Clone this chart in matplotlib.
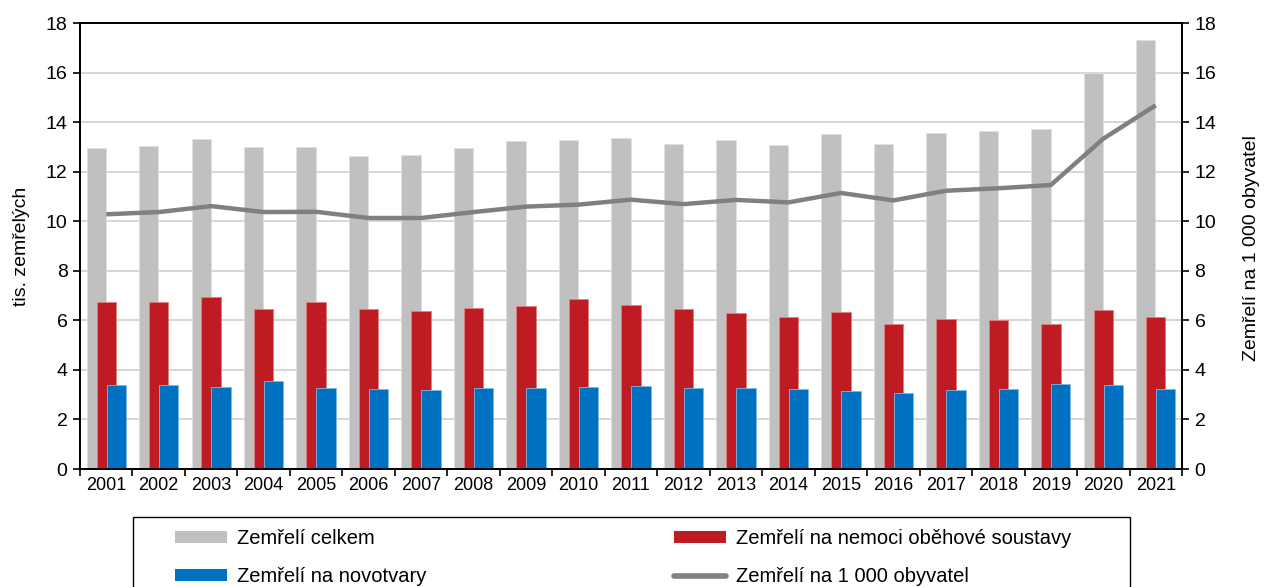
import numpy as np
import matplotlib
matplotlib.use('Agg')
import matplotlib.pyplot as plt
from matplotlib.patches import Patch, Rectangle
from matplotlib.lines import Line2D

plt.rcParams['font.family'] = ['Liberation Sans', 'DejaVu Sans']

years = [str(y) for y in range(2001, 2022)]
celkem = [12.95, 13.05, 13.33, 13.0, 12.98, 12.65, 12.66, 12.94, 13.22, 13.27, 13.37,
          13.13, 13.26, 13.09, 13.53, 13.12, 13.55, 13.64, 13.74, 15.98, 17.31]
obehove = [6.76, 6.72, 6.94, 6.45, 6.72, 6.46, 6.37, 6.48, 6.57, 6.86, 6.62,
           6.45, 6.29, 6.12, 6.33, 5.87, 6.05, 6.01, 5.84, 6.41, 6.13]
novotvary = [3.41, 3.38, 3.31, 3.55, 3.26, 3.24, 3.19, 3.28, 3.28, 3.29, 3.35,
             3.28, 3.25, 3.24, 3.15, 3.05, 3.2, 3.23, 3.45, 3.38, 3.24]
na_1000 = [10.28, 10.37, 10.61, 10.37, 10.38, 10.13, 10.13, 10.37, 10.59, 10.67, 10.87,
           10.69, 10.86, 10.76, 11.14, 10.84, 11.23, 11.33, 11.46, 13.33, 14.68]

c_gray = '#C0C0C0'
c_red = '#BE1B23'
c_blue = '#0070C0'
c_line = '#808080'

W, H = 1265, 587
fig = plt.figure(figsize=(W / 100, H / 100), dpi=100)
ax = fig.add_axes([80 / W, 1 - 469 / H, (1182 - 80) / W, (469 - 23) / H])

x = np.arange(len(years))
w = 0.37
ax.bar(x - 0.19, celkem, w, color=c_gray, edgecolor='#E0E0E0', linewidth=0.6, zorder=2)
ax.bar(x, obehove, w, color=c_red, edgecolor='#E08080', linewidth=0.6, zorder=3)
ax.bar(x + 0.19, novotvary, w, color=c_blue, edgecolor='#80B8E0', linewidth=0.6, zorder=4)

ax.set_xlim(-0.5, len(years) - 0.5)
ax.set_ylim(0, 18)
ax.set_yticks(range(0, 19, 2))
ax.grid(axis='y', color='#D0D0D0', linewidth=1.2, zorder=0)
ax.set_axisbelow(True)

ax.set_xticks(np.arange(-0.5, len(years), 1.0))
ax.set_xticklabels([])
ax.set_xticks(x, minor=True)
ax.set_xticklabels(years, minor=True, fontsize=13)
ax.tick_params(axis='x', which='major', direction='out', length=5, width=1.2)
ax.tick_params(axis='x', which='minor', length=0, pad=6)
ax.tick_params(axis='y', direction='out', length=5, width=1.2, labelsize=14, pad=4)

ax2 = ax.twinx()
ax2.plot(x, na_1000, color=c_line, linewidth=3.2, solid_capstyle='butt', zorder=5)
ax2.set_ylim(0, 18)
ax2.set_yticks(range(0, 19, 2))
ax2.tick_params(axis='y', direction='out', length=5, width=1.2, labelsize=14, pad=4)

for a in (ax, ax2):
    for s in a.spines.values():
        s.set_linewidth(1.3)
        s.set_color('black')

fig.text(22 / W, 1 - 246 / H, 'tis. zemřelých', rotation=90, fontsize=14,
         ha='center', va='center')
fig.text(1252 / W, 1 - 248 / H, 'Zemřelí na 1 000 obyvatel', rotation=90, fontsize=14,
         ha='center', va='center')

# legend frame (runs off the bottom edge like in the original)
fig.patches.append(Rectangle((133 / W, -0.05), (1130 - 133) / W, 1 - 517 / H + 0.05,
                             transform=fig.transFigure, facecolor='none',
                             edgecolor='black', linewidth=1.0))

handles = [
    Patch(facecolor=c_gray, edgecolor='none'),
    Patch(facecolor=c_blue, edgecolor='none'),
    Patch(facecolor=c_red, edgecolor='none'),
    Line2D([], [], color=c_line, linewidth=4, solid_capstyle='round'),
]
labels = ['Zemřelí celkem', 'Zemřelí na novotvary',
          'Zemřelí na nemoci oběhové soustavy', 'Zemřelí na 1 000 obyvatel']
fs = 14.5
em = fs * 100 / 72
fig.legend(handles, labels, ncol=2, loc='upper left',
           bbox_to_anchor=(175 / W, 1 - 529 / H), fontsize=fs, frameon=False,
           handlelength=52 / em, handleheight=0.55,
           handletextpad=10 / em, labelspacing=0.95, borderpad=0,
           borderaxespad=0, columnspacing=12.3)

plt.savefig('out.png', dpi=100)
